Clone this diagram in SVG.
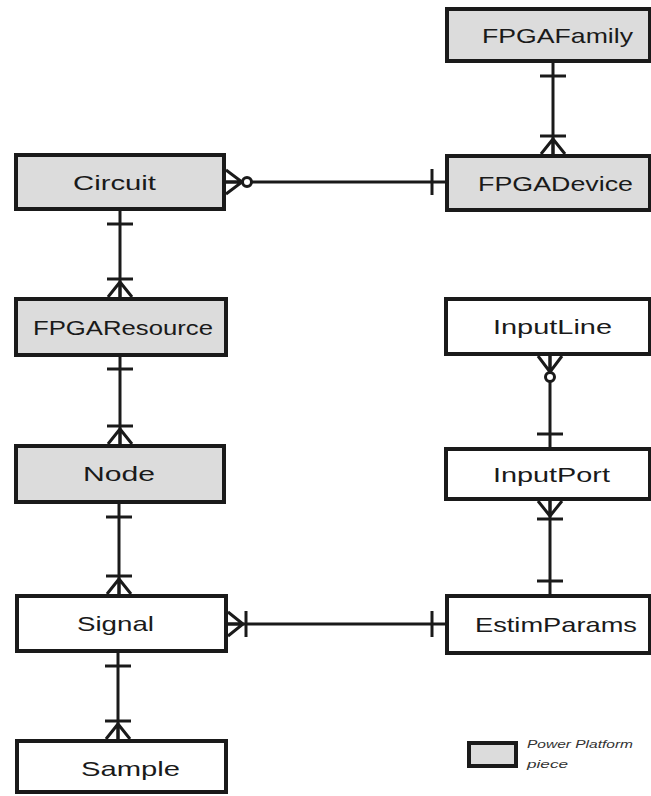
<svg xmlns="http://www.w3.org/2000/svg" width="651" height="796" viewBox="0 0 651 796">
  <style>
    .box { stroke: #1a1a1a; stroke-width: 4; }
    .pp { fill: #dcdcdc; }
    .plain { fill: #ffffff; }
    .label { font-family: "Liberation Sans", "DejaVu Sans", sans-serif; font-size: 21px; fill: #1a1a1a; }
    .link { stroke: #1a1a1a; stroke-width: 3; fill: none; }
    .mk { stroke: #1a1a1a; stroke-width: 3; fill: none; }
    .legend { font-family: "Liberation Sans", "DejaVu Sans", sans-serif; font-size: 10px; font-style: italic; fill: #333333; }
  </style>
  <defs>
    <!-- +x points into the entity box; x=0 is the box edge -->
    <marker id="one" markerUnits="userSpaceOnUse" orient="auto-start-reverse" refX="0" refY="0" markerWidth="40" markerHeight="40" overflow="visible">
      <line class="mk" x1="-13" y1="-13" x2="-13" y2="13"/>
    </marker>
    <marker id="many" markerUnits="userSpaceOnUse" orient="auto-start-reverse" refX="0" refY="0" markerWidth="40" markerHeight="40" overflow="visible">
      <path class="mk" d="M0,-12 L-15,0 L0,12 M-15,0 L0,0"/>
      <line class="mk" x1="-18" y1="-13" x2="-18" y2="13"/>
    </marker>
    <marker id="zeroMany" markerUnits="userSpaceOnUse" orient="auto-start-reverse" refX="0" refY="0" markerWidth="40" markerHeight="40" overflow="visible">
      <path class="mk" d="M0,-12 L-16,0 L0,12 M-16,0 L0,0"/>
      <circle cx="-21" cy="0" r="4.5" fill="#ffffff" stroke="#1a1a1a" stroke-width="3"/>
    </marker>
  </defs>

  <g id="connectors">
    <line class="link" x1="553" y1="63" x2="553" y2="154" marker-start="url(#one)" marker-end="url(#many)"/>
    <line class="link" x1="226" y1="182" x2="445" y2="182" marker-start="url(#zeroMany)" marker-end="url(#one)"/>
    <line class="link" x1="120" y1="211" x2="120" y2="297" marker-start="url(#one)" marker-end="url(#many)"/>
    <line class="link" x1="120" y1="356" x2="120" y2="444" marker-start="url(#one)" marker-end="url(#many)"/>
    <line class="link" x1="119" y1="504" x2="119" y2="594" marker-start="url(#one)" marker-end="url(#many)"/>
    <line class="link" x1="118" y1="653" x2="118" y2="739" marker-start="url(#one)" marker-end="url(#many)"/>
    <line class="link" x1="550" y1="356" x2="550" y2="447" marker-start="url(#zeroMany)" marker-end="url(#one)"/>
    <line class="link" x1="550" y1="501" x2="550" y2="594" marker-start="url(#many)" marker-end="url(#one)"/>
    <line class="link" x1="228" y1="624" x2="445" y2="624" marker-start="url(#many)" marker-end="url(#one)"/>
  </g>

  <g id="FPGAFamily">
    <rect class="box pp" x="447" y="9" width="203" height="52"/>
    <text class="label" x="482" y="42.5" textLength="151" lengthAdjust="spacingAndGlyphs">FPGAFamily</text>
  </g>
  <g id="FPGADevice">
    <rect class="box pp" x="447" y="156" width="203" height="54"/>
    <text class="label" x="478" y="191" textLength="155" lengthAdjust="spacingAndGlyphs">FPGADevice</text>
  </g>
  <g id="Circuit">
    <rect class="box pp" x="16" y="155" width="208" height="54"/>
    <text class="label" x="73" y="189.5" textLength="83" lengthAdjust="spacingAndGlyphs">Circuit</text>
  </g>
  <g id="FPGAResource">
    <rect class="box pp" x="16" y="299" width="210" height="56"/>
    <text class="label" x="33" y="334.5" textLength="180" lengthAdjust="spacingAndGlyphs">FPGAResource</text>
  </g>
  <g id="Node">
    <rect class="box pp" x="16" y="446" width="208" height="56"/>
    <text class="label" x="83" y="481" textLength="72" lengthAdjust="spacingAndGlyphs">Node</text>
  </g>
  <g id="Signal">
    <rect class="box plain" x="17" y="596" width="209" height="55"/>
    <text class="label" x="77" y="631" textLength="77" lengthAdjust="spacingAndGlyphs">Signal</text>
  </g>
  <g id="Sample">
    <rect class="box plain" x="17" y="741" width="209" height="51"/>
    <text class="label" x="81" y="776" textLength="99" lengthAdjust="spacingAndGlyphs">Sample</text>
  </g>
  <g id="InputLine">
    <rect class="box plain" x="446" y="299" width="204" height="55"/>
    <text class="label" x="493" y="333.5" textLength="119" lengthAdjust="spacingAndGlyphs">InputLine</text>
  </g>
  <g id="InputPort">
    <rect class="box plain" x="446" y="449" width="204" height="50"/>
    <text class="label" x="493" y="481.5" textLength="117" lengthAdjust="spacingAndGlyphs">InputPort</text>
  </g>
  <g id="EstimParams">
    <rect class="box plain" x="447" y="596" width="203" height="57"/>
    <text class="label" x="475" y="632" textLength="162" lengthAdjust="spacingAndGlyphs">EstimParams</text>
  </g>

  <g id="legend">
    <rect class="box pp" x="469" y="743" width="47" height="23"/>
    <text class="legend" x="527" y="748" textLength="106" lengthAdjust="spacingAndGlyphs">Power Platform</text>
    <text class="legend" x="527" y="768" textLength="41" lengthAdjust="spacingAndGlyphs">piece</text>
  </g>
</svg>
